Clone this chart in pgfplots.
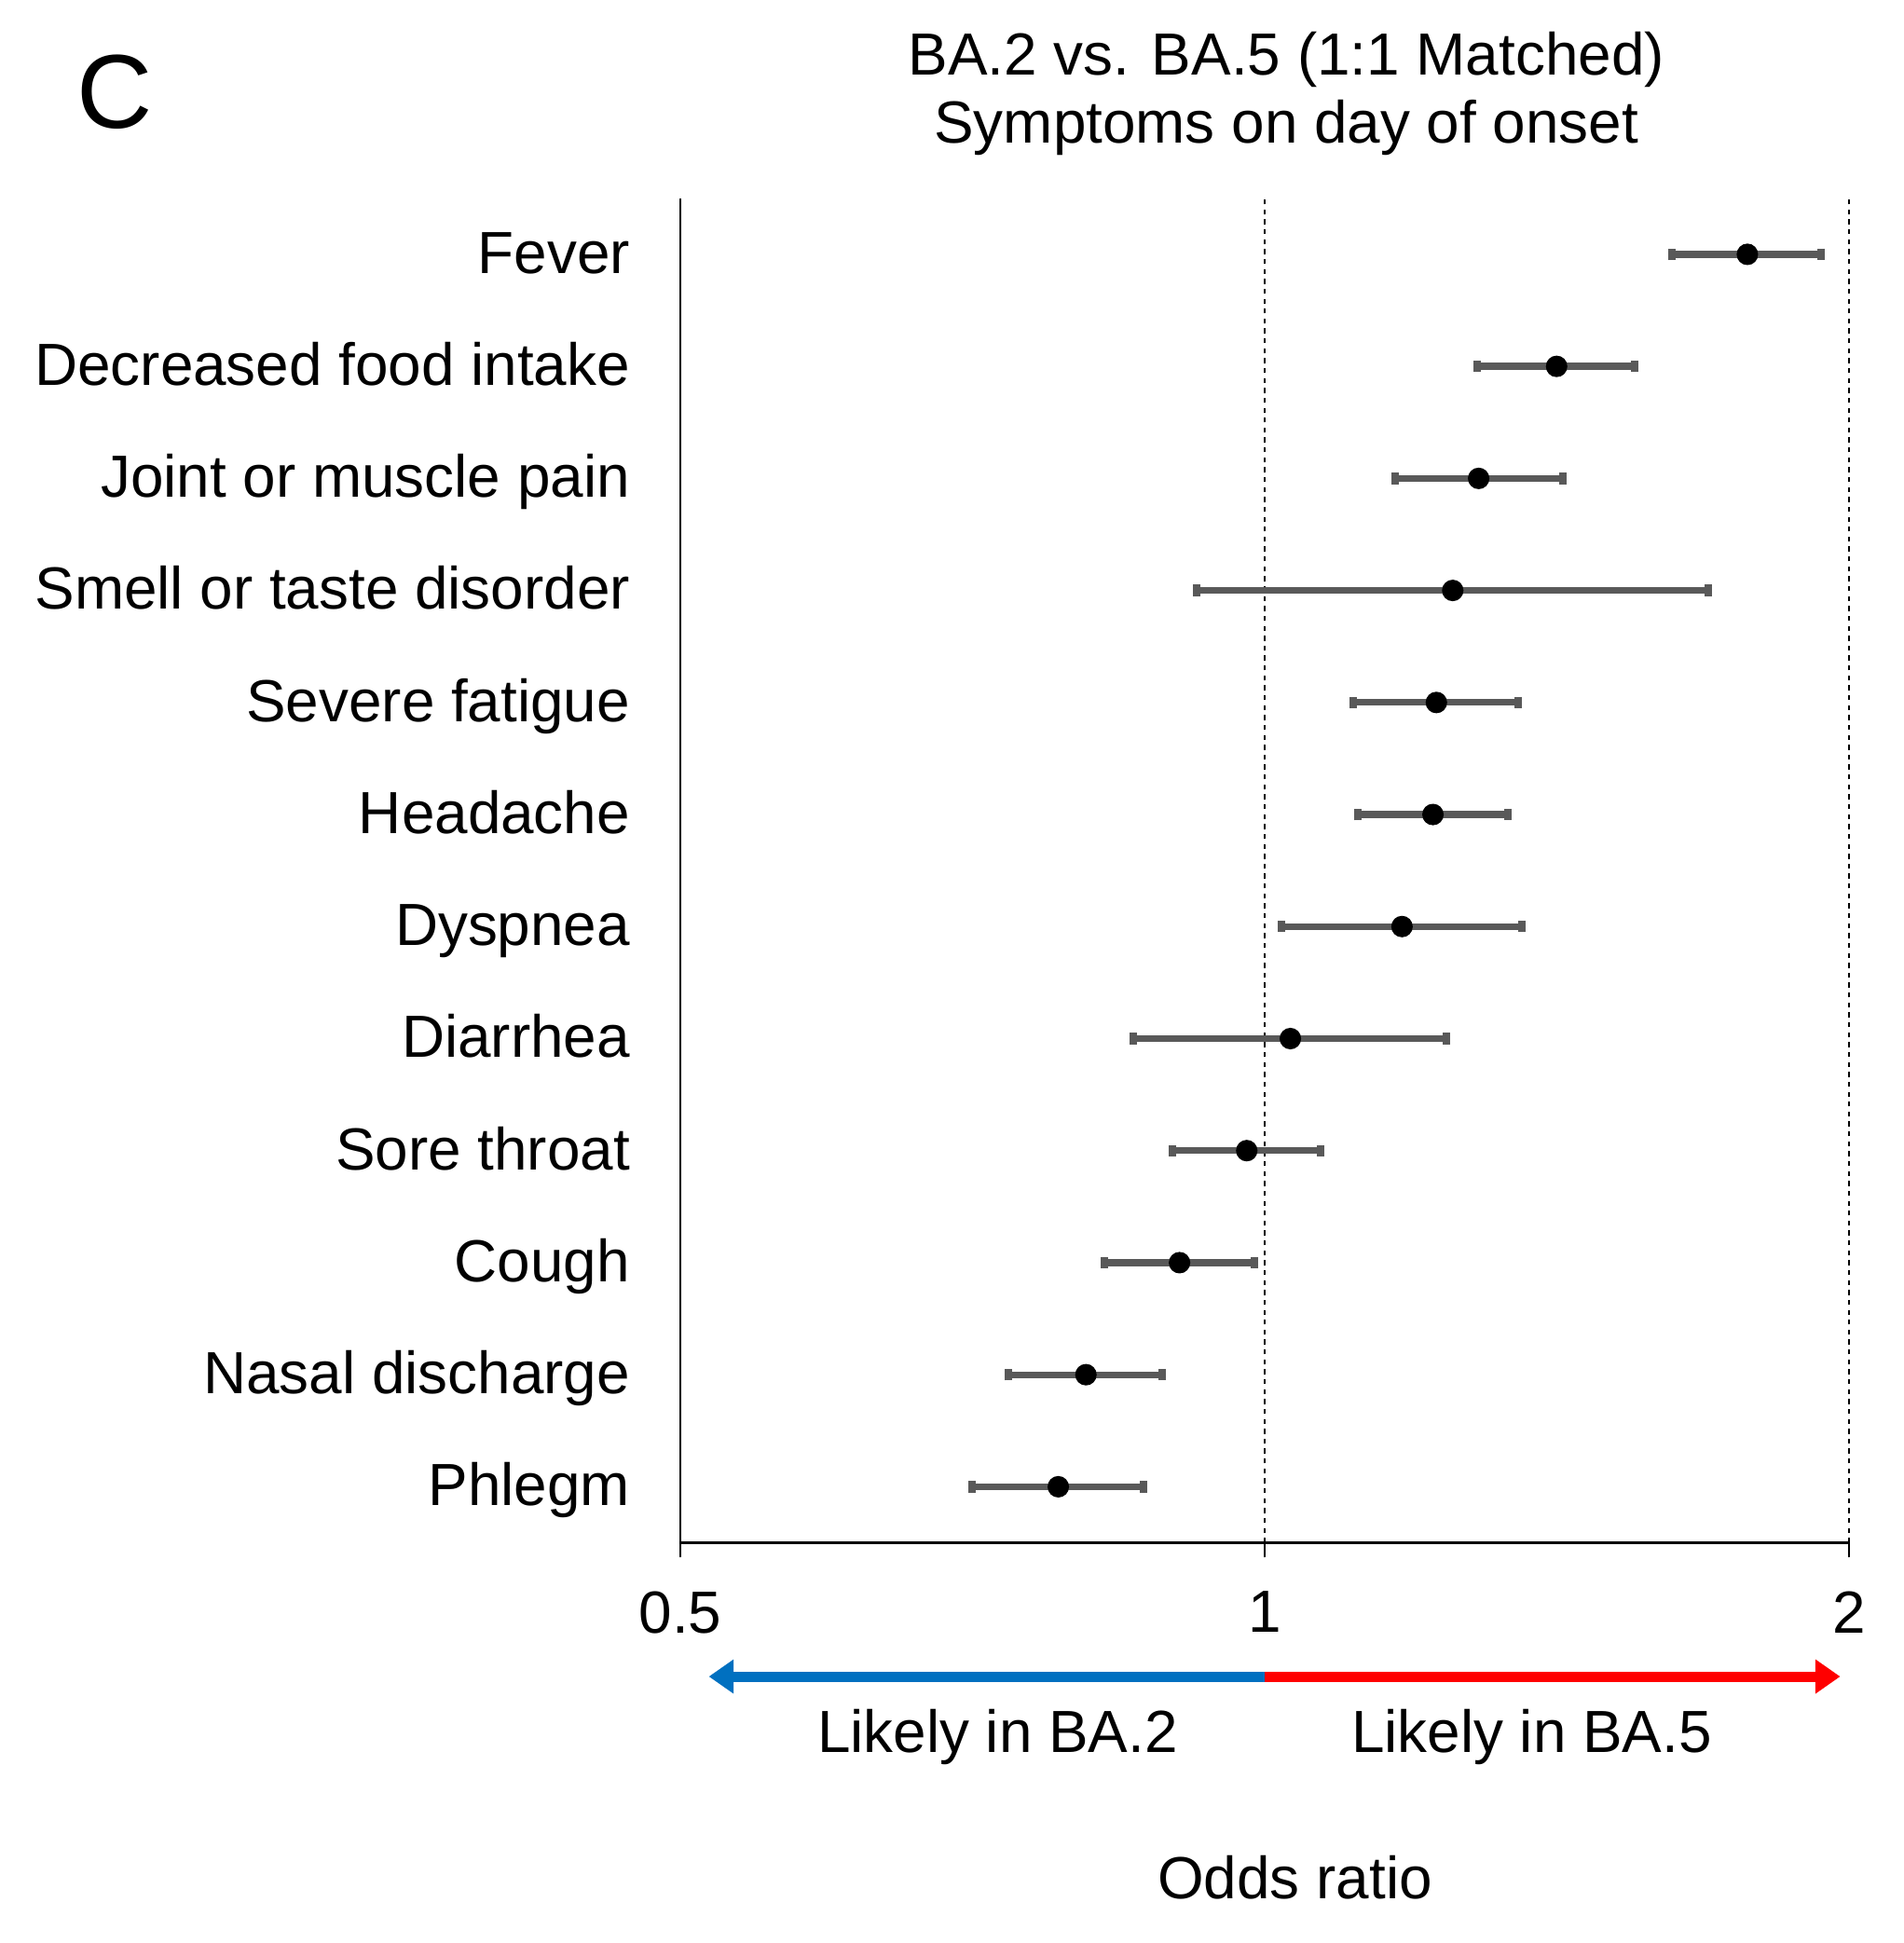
\documentclass[border=0pt]{standalone}
\usepackage{pgfplots}
\pgfplotsset{compat=1.18}
\usepackage{pgfplotstable}
\usepackage{fontspec}
\setmainfont{Liberation Sans}
\usetikzlibrary{arrows.meta}
\definecolor{barblue}{RGB}{0,112,192}
\definecolor{barred}{RGB}{255,0,0}
\definecolor{ebgray}{RGB}{89,89,89}
\pgfplotstableread{
y or lo hi
12 1.773 1.621 1.936
11 1.414 1.287 1.551
10 1.289 1.168 1.424
9 1.250 0.923 1.692
8 1.226 1.111 1.351
7 1.221 1.117 1.335
6 1.177 1.020 1.357
5 1.031 0.856 1.240
4 0.979 0.896 1.069
3 0.904 0.827 0.988
2 0.809 0.738 0.886
1 0.783 0.707 0.866
}\ortable
\begin{document}
\begin{tikzpicture}
\begin{axis}[
  xmode=log, log basis x=2,
  scale only axis, width=282.9pt, height=325.5pt,
  xmin=0.5, xmax=2, ymin=0.5, ymax=12.5,
  axis lines*=left, axis line style={-, line width=0.6pt, black},
  xtick={0.5,1,2}, xticklabels={0.5,1,2},
  ytick={1,...,12},
  yticklabels={Phlegm,Nasal discharge,Cough,Sore throat,Diarrhea,Dyspnea,Headache,Severe fatigue,Smell or taste disorder,Joint or muscle pain,Decreased food intake,Fever},
  tick align=outside,
  major tick length=3.6pt,
  x tick style={line width=0.6pt, black},
  y tick style={draw=none},
  ticklabel style={font=\fontsize{14.4}{17}\selectfont},
  /pgf/number format/assume math mode=true,
  yticklabel style={inner xsep=0pt, anchor=base east, xshift=-8.4pt, yshift=-4.6pt},
  xticklabel style={inner ysep=0pt, yshift=-8pt},
  clip=false,
]
\addplot[black, dashed, line width=0.45pt, dash pattern=on 1.2pt off 1.2pt] coordinates {(1,0.5) (1,12.5)};
\addplot[black, dashed, line width=0.45pt, dash pattern=on 1.2pt off 1.2pt] coordinates {(2,0.5) (2,12.5)};
\addplot[only marks, mark=*, mark size=2.4pt, mark options={black, fill=black},
  error bars/.cd, x dir=both, x explicit,
  error bar style={ebgray, line width=1.65pt},
  error mark options={ebgray, rotate=90, line width=1.8pt, mark size=1.4pt}]
  table[x=or, y=y, x error plus expr=\thisrow{hi}-\thisrow{or}, x error minus expr=\thisrow{or}-\thisrow{lo}] {\ortable};
\draw[barblue, line width=2.5pt, -{Triangle[width=7.9pt,length=6pt]}] (rel axis cs:0.5,-0.0995) -- (rel axis cs:0.0244,-0.0995);
\draw[barred, line width=2.5pt, -{Triangle[width=7.9pt,length=6pt]}] (rel axis cs:0.5,-0.0995) -- (rel axis cs:0.9926,-0.0995);
\node[font=\fontsize{14.4}{17}\selectfont] at (rel axis cs:0.2715,-0.1447) {Likely in BA.2};
\node[font=\fontsize{14.4}{17}\selectfont] at (rel axis cs:0.7285,-0.1447) {Likely in BA.5};
\node[font=\fontsize{14.4}{17}\selectfont] at (rel axis cs:0.526,-0.2488) {Odds ratio};
\node[font=\fontsize{14.4}{17}\selectfont] at (rel axis cs:0.5186,1.103) {BA.2 vs. BA.5 (1:1 Matched)};
\node[font=\fontsize{14.4}{17}\selectfont] at (rel axis cs:0.5186,1.0525) {Symptoms on day of onset};
\node[font=\fontsize{25.4}{29}\selectfont] at (rel axis cs:-0.4836,1.0793) {C};
\path (rel axis cs:-0.5822,-0.2977) rectangle (rel axis cs:1.0467,1.1475);
\end{axis}
\end{tikzpicture}
\end{document}
